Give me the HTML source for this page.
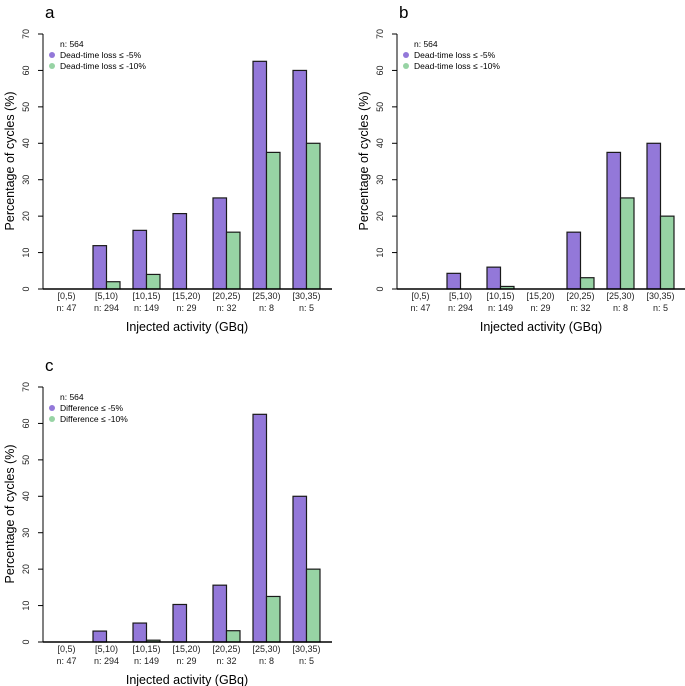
<!DOCTYPE html>
<html><head><meta charset="utf-8"><style>
body{margin:0;background:#fff}
svg{display:block;font-family:"Liberation Sans",Arial,sans-serif}
</style></head><body>
<svg id="chart" width="685" height="686"></svg>
<script>
const categories=["[0,5)","[5,10)","[10,15)","[15,20)","[20,25)","[25,30)","[30,35)"];
const counts=["n: 47","n: 294","n: 149","n: 29","n: 32","n: 8","n: 5"];
const yTicks=[0,10,20,30,40,50,60,70];
const aPurple=[0,11.9,16.1,20.7,25,62.5,60];
const aGreen=[0,2,4,0,15.6,37.5,40];
const bPurple=[0,4.3,6,0,15.6,37.5,40];
const bGreen=[0,0,0.7,0,3.1,25,20];
const cPurple=[0,3,5.2,10.3,15.6,62.5,40];
const cGreen=[0,0,0.5,0,3.1,12.5,20];
const panels=[
 {id:"a",dx:0,dy:0,p:aPurple,g:aGreen,l1:"Dead-time loss \u2264 -5%",l2:"Dead-time loss \u2264 -10%"},
 {id:"b",dx:354,dy:0,p:bPurple,g:bGreen,l1:"Dead-time loss \u2264 -5%",l2:"Dead-time loss \u2264 -10%"},
 {id:"c",dx:0,dy:353,p:cPurple,g:cGreen,l1:"Difference \u2264 -5%",l2:"Difference \u2264 -10%"}
];
const NS="http://www.w3.org/2000/svg";
const svg=document.getElementById("chart");
function mk(tag,attrs,parent,text){const e=document.createElementNS(NS,tag);for(const k in attrs)e.setAttribute(k,attrs[k]);if(text!==undefined)e.textContent=text;parent.appendChild(e);return e;}
panels.forEach(P=>{
 const g=mk("g",{transform:`translate(${P.dx},${P.dy})`},svg);
 
 
 const y0=289,yTop=34,ymax=70;
 const ys=v=>y0-(v/ymax)*(y0-yTop);
 const xs=i=>53+i*40;
 const bw=13.5;
 let t=mk("text",{x:45,y:18,"font-size":17},g,P.id);
 
 
 let ax=mk("line",{x1:43,x2:43,y1:ys(0),y2:ys(70),stroke:"#000","stroke-width":1},g);
 
 
 yTicks.forEach(v=>{
  mk("line",{x1:38,x2:43,y1:ys(v),y2:ys(v),stroke:"#000"},g);
  const tl=mk("text",{x:29,y:ys(v),"font-size":9,"text-anchor":"middle",transform:`rotate(-90 29 ${ys(v)})`,fill:"#222"},g,String(v));
  
  
 });
 const yt=mk("text",{x:14,y:161,"font-size":12.5,"text-anchor":"middle",transform:"rotate(-90 14 161)"},g,"Percentage of cycles (%)");
 
 
 categories.forEach((c,i)=>{
  const x=xs(i);
  const bp=mk("rect",{x:x,y:ys(P.p[i]),width:bw,height:ys(0)-ys(P.p[i]),fill:"#9378d9",stroke:"#1a1a1a","stroke-width":1.2},g);
  
  
  const bg=mk("rect",{x:x+bw,y:ys(P.g[i]),width:bw,height:ys(0)-ys(P.g[i]),fill:"#97d3a4",stroke:"#1a1a1a","stroke-width":1.2},g);
  
  
  const cl=mk("text",{x:x+bw,y:299,"font-size":9,"text-anchor":"middle",fill:"#222"},g,c);
  
  
  const nl=mk("text",{x:x+bw,y:311,"font-size":9,"text-anchor":"middle",fill:"#222"},g,counts[i]);
  
  
 });
 const base=mk("line",{x1:43,x2:332,y1:ys(0),y2:ys(0),stroke:"#000","stroke-width":1.5},g);
 
 
 const xt=mk("text",{x:187,y:331,"font-size":12.5,"text-anchor":"middle"},g,"Injected activity (GBq)");
 
 
 const lg=mk("g",{},g);
 
 
 mk("text",{x:60,y:47,"font-size":8.5},lg,"n: 564");
 mk("circle",{cx:52,cy:55,r:3,fill:"#9378d9"},lg);
 mk("text",{x:60,y:58,"font-size":8.5},lg,P.l1);
 mk("circle",{cx:52,cy:66,r:3,fill:"#97d3a4"},lg);
 mk("text",{x:60,y:69,"font-size":8.5},lg,P.l2);
});
</script>
</body></html>
